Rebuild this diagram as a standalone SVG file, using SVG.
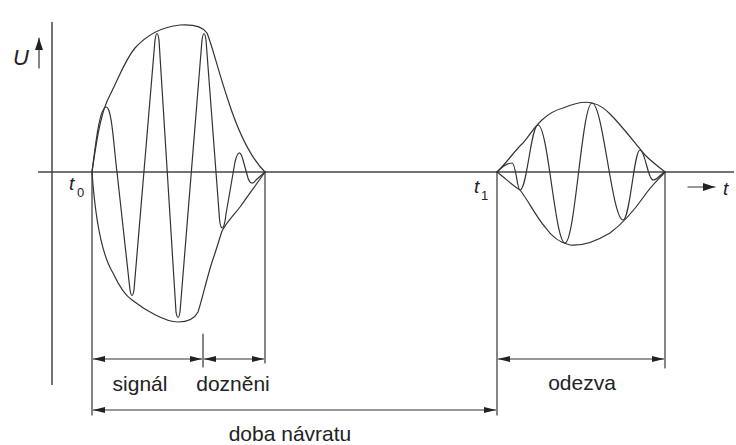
<svg xmlns="http://www.w3.org/2000/svg" width="736" height="445" viewBox="0 0 736 445">
<style>
.ln{fill:none;stroke:#333;stroke-width:1.2;stroke-linejoin:round;stroke-linecap:round}
.ax{fill:none;stroke:#444;stroke-width:1.5}
.lbl{font-family:"Liberation Sans",Arial,sans-serif;font-size:21px;fill:#222}
.sub{font-family:"Liberation Sans",Arial,sans-serif;font-size:13px;fill:#222}
.it{font-family:"Liberation Sans",Arial,sans-serif;font-style:italic;fill:#222}
.dim{fill:none;stroke:#333;stroke-width:1.2;marker-start:url(#ah);marker-end:url(#ah)}
</style>
<defs>
<marker id="ah" viewBox="0 0 12 6" refX="12" refY="3" markerWidth="12" markerHeight="6" markerUnits="userSpaceOnUse" orient="auto-start-reverse">
<path d="M0,0 L12,3 L0,6 Z" fill="#222"/>
</marker>
<marker id="ah2" viewBox="0 0 12 8" refX="12" refY="4" markerWidth="12" markerHeight="8" markerUnits="userSpaceOnUse" orient="auto">
<path d="M0,0 L12,4 L0,8 Z" fill="#222"/>
</marker>
</defs>
<g id="axes">
<line class="ax" x1="52" y1="22" x2="52" y2="385"/>
<line class="ax" x1="38" y1="172" x2="734" y2="172"/>
<line class="ln" x1="39" y1="68" x2="39" y2="38" marker-end="url(#ah2)"/>
<text class="it" x="13" y="65" font-size="22">U</text>
<text class="it" x="69" y="190" font-size="19">t</text>
<text class="sub" x="77" y="197">0</text>
<text class="it" x="474" y="193" font-size="19">t</text>
<text class="sub" x="481" y="200">1</text>
<line class="ln" x1="688" y1="187" x2="715" y2="187" marker-end="url(#ah2)"/>
<text class="it" x="723" y="195" font-size="19">t</text>
</g>
<g id="signal">
<path class="ln" d="M92,172 C98,130 102,110 110,95 C120,75 125,60 135,48 C145,37 160,27 180,25 C195,24 203,27 207,33 C212,45 218,70 228,100 C236,125 248,155 265,172"/>
<path class="ln" d="M92,172 C95,215 102,255 113,273 C120,288 126,296 132,300 C145,310 165,322 178,322 C188,322 195,318 198,312 C202,300 205,285 212,262 C217,248 219,240 222,231 C228,220 234,215 240,207 C250,193 258,182 265,172"/>
<path class="ln" d="M92,172 C95,150 99,108 106,107 C112,106 114,150 117,172 L130,290 Q132,301 134,290 L155,40 Q157,27 159,40 L176,312 Q178,323 180,312 L202,40 Q204,27 206,40 L219,212 C220,233 224,233 226,214 L235,162 Q239,145 243,160 L248,178 Q251,187 256,180 L265,172"/>
</g>
<g id="response">
<path class="ln" d="M497,172 C505,165 515,150 523,143 C530,136 540,114 563,108 C575,103 585,101 592,103 C602,105 608,112 613,117 C625,130 635,143 645,155 C652,162 660,168 665,172"/>
<path class="ln" d="M497,172 C505,178 512,185 520,190 C528,200 535,215 545,227 C552,237 560,243 570,245 C580,246 595,242 610,233 C625,222 638,205 645,195 C652,185 660,178 665,172"/>
<path class="ln" d="M497,172 C503,166 508,163 512,163 C516,163 517,190 520,190 C527,190 531,125 538,125 C548,125 555,243 565,243 C575,243 582,103 592,103 C603,103 612,220 623,220 C630,220 634,150 640,150 C645,150 648,180 653,180 C658,180 662,172 665,172"/>
</g>
<g id="connectors">
<line class="ln" x1="92" y1="172" x2="92" y2="415"/>
<line class="ln" x1="265" y1="172" x2="265" y2="363"/>
<line class="ln" x1="203" y1="334" x2="203" y2="367"/>
<line class="ln" x1="497" y1="172" x2="497" y2="415"/>
<line class="ln" x1="665" y1="172" x2="665" y2="368"/>
<line class="dim" x1="93" y1="359" x2="202" y2="359"/>
<line class="dim" x1="204" y1="359" x2="264" y2="359"/>
<line class="dim" x1="498" y1="359" x2="664" y2="359"/>
<line class="dim" x1="93" y1="410" x2="496" y2="410"/>
</g>
<g id="labels">
<text class="lbl" x="140" y="391" text-anchor="middle">signál</text>
<text class="lbl" x="233" y="391" text-anchor="middle">dozněni</text>
<text class="lbl" x="582" y="390" text-anchor="middle">odezva</text>
<text class="lbl" x="290" y="441" text-anchor="middle">doba návratu</text>
</g>
</svg>
